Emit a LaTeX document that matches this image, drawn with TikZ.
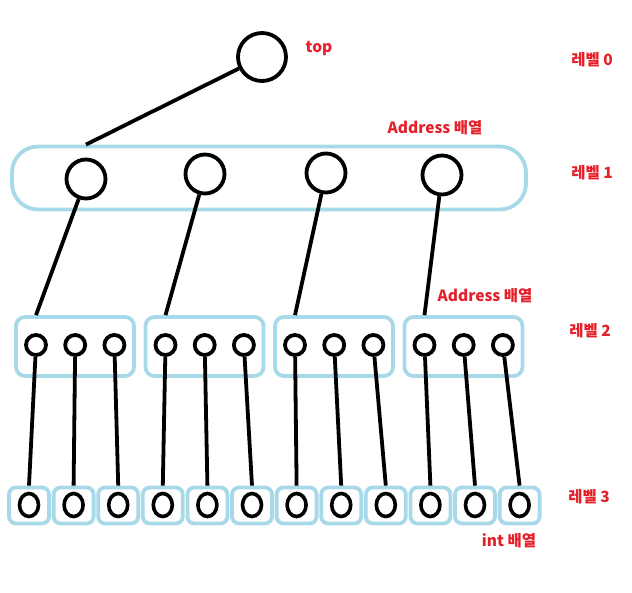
\documentclass[tikz,border=0pt]{standalone}
\usepackage{fontspec}
\setmainfont{Noto Sans CJK KR}
\usetikzlibrary{positioning, shapes.geometric}
\definecolor{ARRblue}{HTML}{A8D9E8}
\definecolor{ARRred}{HTML}{E5202A}

\begin{document}
\begin{tikzpicture}[x=1pt, y=-1pt,
    elem/.style={draw=black, line width=3.8pt, circle, inner sep=0pt},
    leaf/.style={draw=black, line width=3.6pt, ellipse, inner sep=0pt,
                 minimum width=19pt, minimum height=23pt},
    arrbox/.style={draw=ARRblue, line width=3.8pt, rounded corners=9pt,
                   inner sep=0pt},
    link/.style={draw=black, line width=3.8pt},
    tag/.style={text=ARRred, inner sep=1pt,
                font=\bfseries\fontsize{15.5}{17}\selectfont},
]
\useasboundingbox (0,0) rectangle (632,593);

% --- Level 0: top pointer ---
\node[elem, minimum size=48pt] (top) at (262,57) {};

% --- Level 1: one Address array holding 4 pointers ---
\node[arrbox, rounded corners=26pt, minimum width=514pt,
      minimum height=63pt] (lvone) at (269,178) {};
\foreach \i/\x/\y in {a/86/179, b/205/174, c/326/173, d/442/175} {
    \node[elem, minimum size=39pt] (one-\i) at (\x,\y) {};
}

% --- Level 2: 4 Address arrays of 3 pointers, y centre 346 ---
\foreach \i [count=\g from 0] in {a, b, c, d} {
    \node[arrbox, minimum width=118pt, minimum height=59pt]
        (grp-\i) at (75+129.5*\g, 346.5) {};
    \foreach \j in {0, 1, 2} {
        \node[elem, minimum size=20pt] (two-\i-\j) at (36+129.5*\g+39.2*\j, 345) {};
    }
}

% --- Level 3: 12 int cells ---
\foreach \n in {0,...,11} {
    \node[arrbox, rounded corners=7pt, minimum width=40pt,
          minimum height=36pt] (cell-\n) at (29+44.6*\n, 505.5) {};
    \node[leaf] (three-\n) at (29+44.6*\n, 505) {};
}

% --- links ---
\draw[link] (top) -- (one-a |- lvone.north);
\foreach \i in {a, b, c, d} {
    \draw[link] (one-\i) -- (two-\i-0 |- grp-\i.north);
}
\foreach \i [count=\g from 0] in {a, b, c, d} {
    \foreach \j in {0, 1, 2} {
        \pgfmathtruncatemacro{\n}{3*\g+\j}
        \draw[link] (two-\i-\j) -- (cell-\n.north);
    }
}

% --- labels ---
\node[tag] (lbl-top) at (319,49) {top};
\node[tag] (lbl-l0) at (592,60) {레벨 0};
\node[tag] (lbl-arr1) at (435,128) {Address 배열};
\node[tag] (lbl-l1) at (592,173) {레벨 1};
\node[tag] (lbl-arr2) at (485,296) {Address 배열};
\node[tag] (lbl-l2) at (590,331) {레벨 2};
\node[tag] (lbl-l3) at (589,497) {레벨 3};
\node[tag] (lbl-int) at (509,541) {int 배열};

\end{tikzpicture}
\end{document}
